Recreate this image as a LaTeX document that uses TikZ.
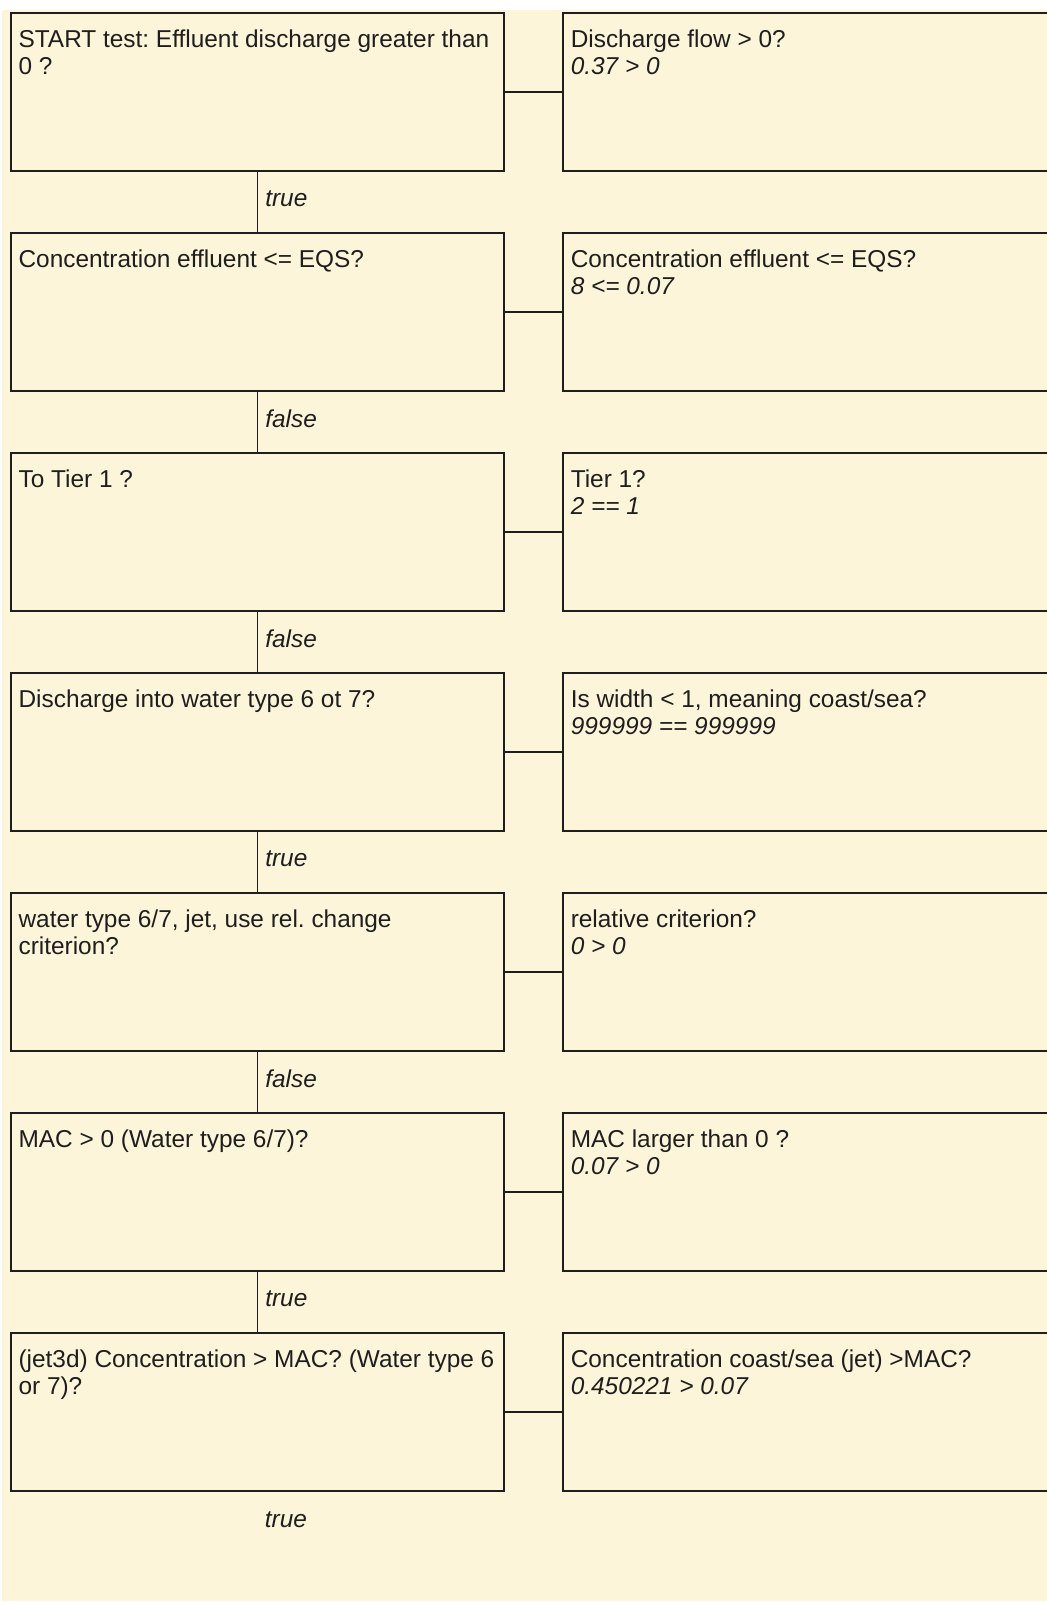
\documentclass[tikz,border=0pt]{standalone}
\usepackage{fontspec}
\setmainfont{Liberation Sans}
\usetikzlibrary{positioning}
\frenchspacing
\definecolor{paper}{RGB}{252,245,218}
\definecolor{ink}{RGB}{30,30,30}
\tikzset{
    testbox/.style={draw=ink, fill=paper, line width=0.8pt, rectangle, anchor=north west, minimum width=246.5pt, minimum height=79pt, inner sep=0pt},
    checkbox/.style={testbox, minimum width=260pt},
    testtext/.style={anchor=north west, align=left, inner sep=0pt, text=ink, font=\fontsize{12.2}{13.8}\selectfont},
    outcome/.style={anchor=west, xshift=3.5pt, yshift=1.5pt, inner sep=0pt, text=ink, font=\fontsize{12.2}{13.8}\selectfont\itshape},
    link/.style={draw=ink, line width=0.8pt}
}

\begin{document}
\begin{tikzpicture}[x=0.5pt, y=-0.5pt, node distance=30.2pt and 28.8pt]
\useasboundingbox (0,0) rectangle (1047,1603);
\fill[paper] (2,10) rectangle (1047,1601);

% left column: the tests
\node[testbox] (q1) at (10.2,12.3) {};
\node[testbox, below=of q1] (q2) {};
\node[testbox, below=of q2] (q3) {};
\node[testbox, below=of q3] (q4) {};
\node[testbox, below=of q4] (q5) {};
\node[testbox, below=of q5] (q6) {};
\node[testbox, below=of q6] (q7) {};

% right column: the checks
\node[checkbox, right=of q1] (r1) {};
\node[checkbox, right=of q2] (r2) {};
\node[checkbox, right=of q3] (r3) {};
\node[checkbox, right=of q4] (r4) {};
\node[checkbox, right=of q5] (r5) {};
\node[checkbox, right=of q6] (r6) {};
\node[checkbox, right=of q7] (r7) {};

\node[testtext] (q1t) at ([shift={(4pt,-7.6pt)}]q1.north west) {\strut START test: Effluent discharge greater than\\0 ?};
\node[testtext] (q2t) at ([shift={(4pt,-7.6pt)}]q2.north west) {\strut Concentration effluent <= EQS?};
\node[testtext] (q3t) at ([shift={(4pt,-7.6pt)}]q3.north west) {\strut To Tier 1 ?};
\node[testtext] (q4t) at ([shift={(4pt,-7.6pt)}]q4.north west) {\strut Discharge into water type 6 ot 7?};
\node[testtext] (q5t) at ([shift={(4pt,-7.6pt)}]q5.north west) {\strut water type 6/7, jet, use rel. change\\criterion?};
\node[testtext] (q6t) at ([shift={(4pt,-7.6pt)}]q6.north west) {\strut MAC > 0 (Water type 6/7)?};
\node[testtext] (q7t) at ([shift={(4pt,-7.6pt)}]q7.north west) {\strut (jet3d) Concentration > MAC? (Water type 6\\or 7)?};

\node[testtext] (r1t) at ([shift={(4pt,-7.6pt)}]r1.north west) {\strut Discharge flow > 0?\\\textit{0.37 > 0}};
\node[testtext] (r2t) at ([shift={(4pt,-7.6pt)}]r2.north west) {\strut Concentration effluent <= EQS?\\\textit{8 <= 0.07}};
\node[testtext] (r3t) at ([shift={(4pt,-7.6pt)}]r3.north west) {\strut Tier 1?\\\textit{2 == 1}};
\node[testtext] (r4t) at ([shift={(4pt,-7.6pt)}]r4.north west) {\strut Is width < 1, meaning coast/sea?\\\textit{999999 == 999999}};
\node[testtext] (r5t) at ([shift={(4pt,-7.6pt)}]r5.north west) {\strut relative criterion?\\\textit{0 > 0}};
\node[testtext] (r6t) at ([shift={(4pt,-7.6pt)}]r6.north west) {\strut MAC larger than 0 ?\\\textit{0.07 > 0}};
\node[testtext] (r7t) at ([shift={(4pt,-7.6pt)}]r7.north west) {\strut Concentration coast/sea (jet) >MAC?\\\textit{0.450221 > 0.07}};

% connectors
\draw[link] (q1.east) -- (r1.west);
\draw[link] (q2.east) -- (r2.west);
\draw[link] (q3.east) -- (r3.west);
\draw[link] (q4.east) -- (r4.west);
\draw[link] (q5.east) -- (r5.west);
\draw[link] (q6.east) -- (r6.west);
\draw[link] (q7.east) -- (r7.west);

\draw[link] (q1.south) -- node[outcome] (o1) {true} (q2.north);
\draw[link] (q2.south) -- node[outcome] (o2) {false} (q3.north);
\draw[link] (q3.south) -- node[outcome] (o3) {false} (q4.north);
\draw[link] (q4.south) -- node[outcome] (o4) {true} (q5.north);
\draw[link] (q5.south) -- node[outcome] (o5) {false} (q6.north);
\draw[link] (q6.south) -- node[outcome] (o6) {true} (q7.north);
\node[outcome] (o7) at ([yshift=-15.5pt]q7.south) {true};
\end{tikzpicture}
\end{document}
